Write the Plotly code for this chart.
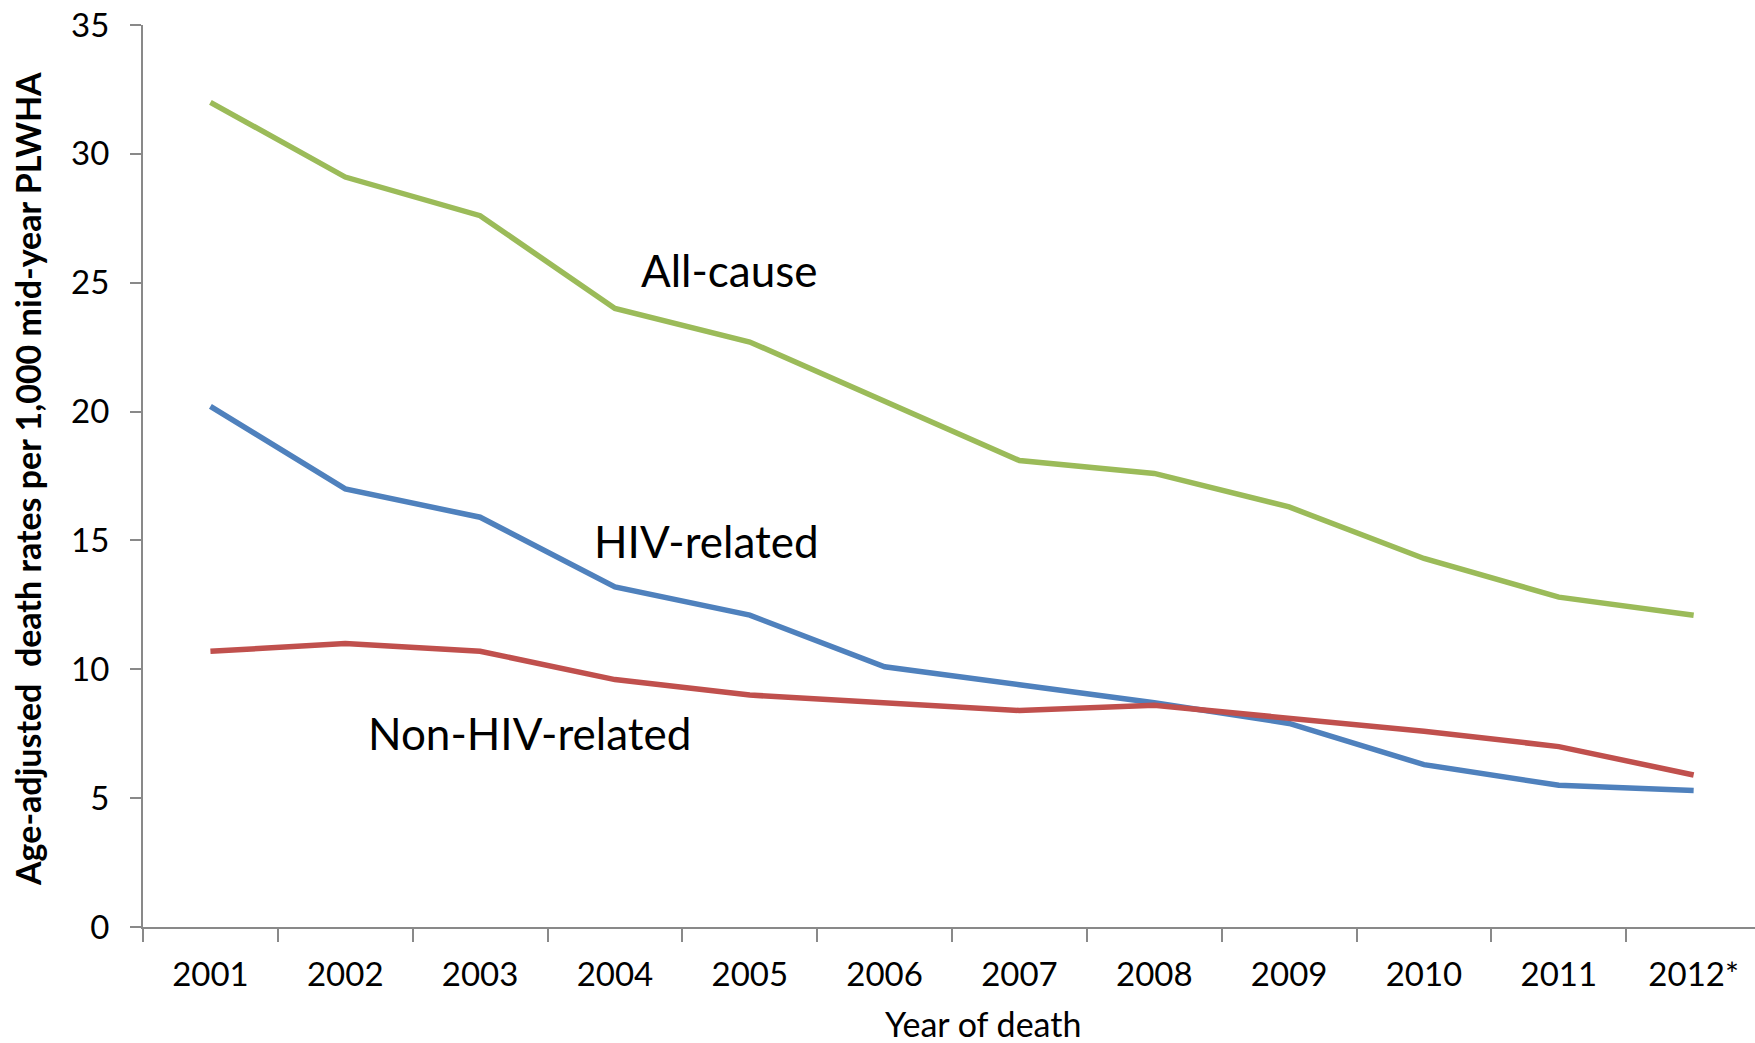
import plotly.graph_objects as go

years = ["2001", "2002", "2003", "2004", "2005", "2006", "2007", "2008", "2009", "2010", "2011", "2012*"]
all_cause = [32.0, 29.1, 27.6, 24.0, 22.7, 20.4, 18.1, 17.6, 16.3, 14.3, 12.8, 12.1]
hiv_related = [20.2, 17.0, 15.9, 13.2, 12.1, 10.1, 9.4, 8.7, 7.9, 6.3, 5.5, 5.3]
non_hiv_related = [10.7, 11.0, 10.7, 9.6, 9.0, 8.7, 8.4, 8.6, 8.1, 7.6, 7.0, 5.9]

y_ticks = [0, 5, 10, 15, 20, 25, 30, 35]

FONT = "Lato, Carlito, Calibri, sans-serif"

fig = go.Figure()
fig.add_trace(go.Scatter(x=years, y=all_cause, mode="lines", name="All-cause",
                         line=dict(color="#9BBB59", width=5.5)))
fig.add_trace(go.Scatter(x=years, y=hiv_related, mode="lines", name="HIV-related",
                         line=dict(color="#4F81BD", width=5.5)))
fig.add_trace(go.Scatter(x=years, y=non_hiv_related, mode="lines", name="Non-HIV-related",
                         line=dict(color="#C0504D", width=5.5)))

labels = [("All-cause", 3.85, 25.5), ("HIV-related", 3.68, 14.96), ("Non-HIV-related", 2.37, 7.52)]
for text, xi, yi in labels:
    fig.add_annotation(x=xi, y=yi, xref="x", yref="y", text=text, showarrow=False,
                       font=dict(family=FONT, size=44, color="black"),
                       xanchor="center", yanchor="middle")

# axis titles
fig.add_annotation(x=0.521, y=0, xref="paper", yref="paper", yshift=-96,
                   text="Year of death", showarrow=False,
                   font=dict(family=FONT, size=34, color="black"),
                   xanchor="center", yanchor="middle")
fig.add_annotation(x=0, y=0.5, xref="paper", yref="paper", xshift=-116, yshift=-3,
                   text="<b>Age-adjusted  death rates per 1,000 mid-year PLWHA</b>",
                   textangle=-90, showarrow=False,
                   font=dict(family=FONT, size=34, color="black"),
                   xanchor="center", yanchor="middle")

fig.update_layout(
    width=1755, height=1043,
    margin=dict(l=143, r=0, t=25, b=116),
    paper_bgcolor="white", plot_bgcolor="white",
    showlegend=False,
    font=dict(family=FONT, color="black"),
)
fig.update_xaxes(
    type="category", range=[-0.5, 11.455],
    showline=True, linecolor="#898989", linewidth=2,
    ticks="outside", tickson="boundaries", ticklen=13, tickwidth=2, tickcolor="#898989",
    tickfont=dict(family=FONT, size=33, color="black"), ticklabelstandoff=17,
    showgrid=False, zeroline=False,
)
fig.update_yaxes(
    range=[0, 35], tickvals=y_ticks,
    showline=True, linecolor="#898989", linewidth=2,
    ticks="outside", ticklen=11, tickwidth=2, tickcolor="#898989",
    tickfont=dict(family=FONT, size=33, color="black"), ticklabelstandoff=14,
    showgrid=False, zeroline=False,
)

fig.write_html("out.html", config={"displayModeBar": False},
               post_script="document.body.style.margin='0';")
